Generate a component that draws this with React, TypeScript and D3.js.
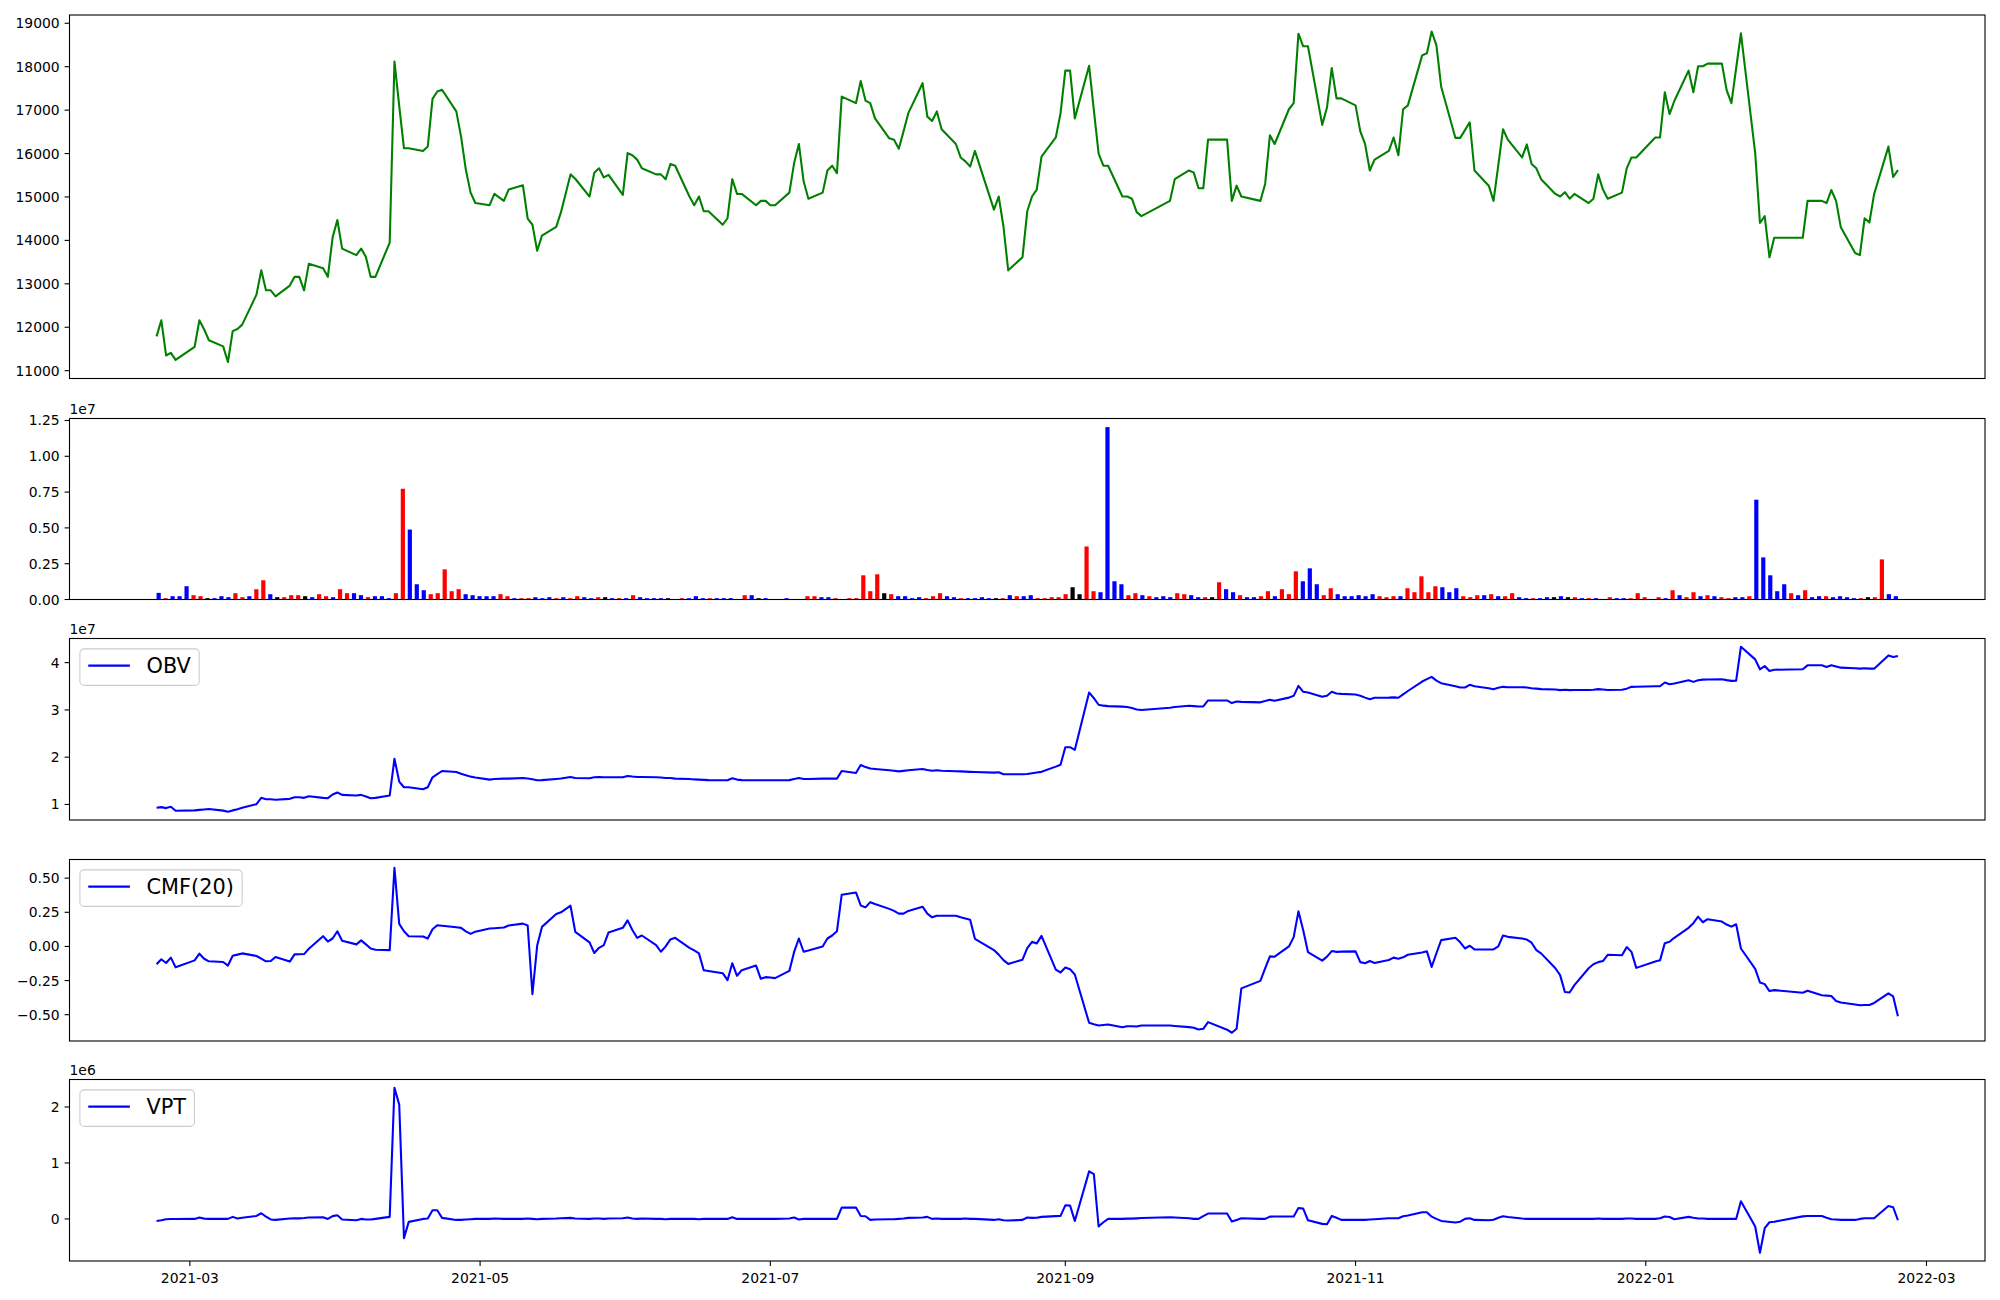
import React from "react";
import * as d3 from "d3";

// ---------- DATA ----------
const TRADING_DAYS: [string, number[]][] = [
  ["2021-02", [22, 23, 24, 25, 26]],
  ["2021-03", [2, 3, 4, 5, 8, 9, 10, 11, 12, 15, 16, 17, 18, 19, 22, 23, 24, 25, 26, 29, 30, 31]],
  ["2021-04", [1, 2, 5, 6, 7, 8, 9, 12, 13, 14, 15, 16, 19, 20, 21, 22, 23, 26, 27, 28, 29, 30]],
  ["2021-05", [3, 4, 6, 7, 10, 11, 12, 13, 14, 17, 18, 20, 21, 24, 25, 26, 27, 28, 31]],
  ["2021-06", [1, 2, 3, 4, 7, 8, 9, 10, 11, 14, 15, 16, 17, 18, 21, 22, 23, 24, 25, 28, 29, 30]],
  ["2021-07", [1, 2, 5, 6, 7, 8, 9, 12, 13, 14, 15, 16, 19, 20, 21, 22, 23, 26, 27, 28, 29, 30]],
  ["2021-08", [2, 3, 4, 5, 6, 9, 10, 11, 12, 13, 17, 18, 19, 20, 23, 24, 25, 26, 27, 30, 31]],
  ["2021-09", [1, 2, 3, 6, 7, 8, 9, 10, 13, 14, 15, 16, 17, 23, 24, 27, 28, 29, 30]],
  ["2021-10", [1, 5, 6, 7, 8, 12, 13, 14, 15, 18, 19, 20, 21, 22, 25, 26, 27, 28, 29]],
  ["2021-11", [1, 2, 3, 4, 5, 8, 9, 10, 11, 12, 15, 16, 17, 18, 19, 22, 23, 24, 25, 26, 29, 30]],
  ["2021-12", [1, 2, 3, 6, 7, 8, 9, 10, 13, 14, 15, 16, 17, 20, 21, 22, 23, 24, 27, 28, 29, 30]],
  ["2022-01", [3, 4, 5, 6, 7, 10, 11, 12, 13, 14, 17, 18, 19, 20, 21, 24, 25, 26, 27, 28]],
  ["2022-02", [3, 4, 7, 8, 9, 10, 11, 14, 15, 16, 17, 18, 21, 22, 23]],
];

const CLOSE = [
  11790, 12160, 11350, 11410, 11250, 11550, 12160, 11950, 11700, 11560,
  11200, 11910, 11960, 12060, 12750, 13310, 12850, 12850, 12710, 12960,
  13160, 13160, 12850, 13460, 13360, 13160, 14070, 14470, 13810, 13660,
  13810, 13620, 13160, 13160, 13950, 18120, 17100, 16120, 16120, 16060,
  16160, 17260, 17430, 17470, 16970, 16390, 15630, 15100, 14860, 14810,
  15070, 14910, 15170, 15270, 14500, 14360, 13760, 14110, 14310, 14650,
  15520, 15420, 15010, 15560, 15660, 15450, 15510, 15050, 16010, 15960,
  15860, 15660, 15520, 15520, 15410, 15760, 15720, 15010, 14810, 15010,
  14670, 14670, 14360, 14510, 15410, 15070, 15070, 14810, 14910, 14910,
  14810, 14810, 15100, 15780, 16220, 15360, 14960, 15100, 15610, 15720,
  15550, 17310, 17160, 17670, 17220, 17160, 16810, 16350, 16320, 16110,
  16510, 16930, 17620, 16850, 16750, 16970, 16560, 16220, 15910, 15820,
  15700, 16060, 14710, 15010, 14320, 13310, 13610, 14670, 15010, 15170,
  15930, 16370, 16930, 17910, 17910, 16810, 18020, 17000, 16000, 15720,
  15720, 15010, 15010, 14960, 14650, 14560, 14910, 15410, 15610, 15560,
  15200, 15200, 16320, 16320, 14910, 15260, 15010, 14910, 15300, 16420,
  16220, 17020, 17160, 18760, 18470, 18470, 16660, 17060, 17970, 17270,
  17270, 17110, 16510, 16220, 15610, 15860, 16060, 16370, 15960, 17020,
  17110, 18260, 18310, 18810, 18490, 17540, 16360, 16360, 16540, 16720,
  15610, 15260, 14910, 15730, 16560, 16320, 15910, 16210, 15760, 15660,
  15410, 15070, 15010, 15110, 14960, 15070, 14860, 14960, 15520, 15170,
  14960, 15100, 15660, 15910, 15910, 16370, 16370, 17410, 16910, 17210,
  17910, 17410, 18010, 18010, 18070, 18070, 17460, 17160, 17970, 18770,
  16010, 14400, 14560, 13610, 14060, 14060, 14910, 14910, 14860, 15160,
  14910, 14300, 13710, 13660, 14510, 14410, 15070, 16160, 15460, 15620,
];

// volume in thousands of shares
const VOLUME_K = [
  463, 93, 231, 231, 926, 301, 231, 93, 93, 231,
  162, 440, 162, 231, 718, 1343, 370, 162, 162, 301,
  301, 231, 162, 370, 231, 162, 718, 440, 440, 301,
  162, 231, 231, 93, 440, 7731, 4884, 1065, 648, 370,
  440, 2106, 579, 718, 370, 301, 231, 231, 231, 370,
  231, 93, 93, 93, 162, 93, 162, 93, 162, 93,
  231, 162, 93, 162, 162, 93, 93, 93, 301, 162,
  93, 93, 93, 93, 30, 93, 93, 231, 93, 93,
  93, 93, 93, 30, 301, 301, 93, 93, 30, 30,
  93, 30, 30, 231, 231, 162, 162, 93, 30, 93,
  93, 1690, 579, 1759, 440, 370, 231, 231, 93, 162,
  93, 231, 440, 231, 162, 93, 93, 93, 162, 93,
  93, 93, 301, 231, 231, 301, 93, 93, 162, 162,
  370, 856, 370, 3704, 579, 509, 12037, 1273, 1065, 301,
  440, 301, 231, 162, 231, 162, 440, 370, 301, 162,
  162, 162, 1204, 718, 509, 301, 162, 162, 231, 579,
  231, 718, 370, 1968, 1273, 2176, 1065, 301, 787, 370,
  231, 231, 301, 231, 370, 231, 162, 231, 231, 787,
  509, 1620, 509, 926, 856, 509, 787, 231, 162, 301,
  301, 370, 231, 231, 440, 162, 93, 93, 93, 162,
  162, 231, 162, 162, 93, 93, 93, 30, 162, 93,
  93, 93, 440, 162, 30, 162, 93, 648, 301, 162,
  509, 231, 301, 231, 162, 93, 162, 162, 231, 6968,
  2940, 1690, 579, 1065, 440, 301, 648, 162, 231, 231,
  162, 231, 162, 93, 93, 162, 162, 2801, 370, 231,
];

// bar colour per day: r = red, b = blue, k = black
const BAR_COLOR_CODES =
  "brbbbrrkbb" + "brrbrrbkrr" + "rkbrrbrrbb" + "rbbbrrbbbr" + "rrrrbbbbbr" +
  "rbrrbbbrbr" + "rbbrkbrbrb" + "bbbkrrbbbr" + "bbbbrbkbrb" + "brbrrbbrrr" +
  "rrrrkrbbbb" + "rrrbbrbbbb" + "krbrbbrrrr" + "rkkrrbbbbr" + "rbrbbbrrbb" +
  "rkrbbrbbrr" + "brrrbbbrrb" + "bbbbbrrrbr" + "rrrrbbbrrr" + "brbrrbbrbb" +
  "kbkrbrbrrb" + "brrrbrbrbr" + "rbrbrrbbrb" + "bbbbrbrbbr" + "bbbbrkrrbb";

// OBV in units of 1e7
const OBV_E7 = [
  0.930, 0.944, 0.923, 0.951, 0.867, 0.875, 0.885, 0.895, 0.905, 0.870,
  0.846, 0.875, 0.900, 0.930, 1.007, 1.140, 1.112, 1.112, 1.098, 1.119,
  1.154, 1.154, 1.140, 1.175, 1.140, 1.133, 1.210, 1.252, 1.203, 1.189,
  1.203, 1.170, 1.133, 1.140, 1.189, 1.967, 1.484, 1.364, 1.364, 1.322,
  1.364, 1.575, 1.640, 1.708, 1.687, 1.650, 1.620, 1.589, 1.570, 1.526,
  1.540, 1.547, 1.547, 1.561, 1.550, 1.535, 1.512, 1.515, 1.540, 1.550,
  1.582, 1.560, 1.554, 1.575, 1.582, 1.575, 1.575, 1.575, 1.603, 1.590,
  1.582, 1.580, 1.575, 1.570, 1.561, 1.560, 1.547, 1.540, 1.530, 1.526,
  1.520, 1.515, 1.512, 1.512, 1.554, 1.526, 1.515, 1.512, 1.512, 1.512,
  1.512, 1.512, 1.515, 1.540, 1.561, 1.540, 1.540, 1.547, 1.547, 1.547,
  1.547, 1.708, 1.666, 1.834, 1.790, 1.760, 1.750, 1.725, 1.715, 1.700,
  1.710, 1.722, 1.750, 1.730, 1.715, 1.722, 1.715, 1.701, 1.700, 1.695,
  1.690, 1.687, 1.673, 1.680, 1.638, 1.638, 1.638, 1.645, 1.660, 1.675,
  1.690, 1.800, 1.841, 2.212, 2.212, 2.156, 3.369, 3.250, 3.109, 3.090,
  3.080, 3.070, 3.060, 3.040, 3.010, 2.997, 3.046, 3.060, 3.088, 3.080,
  3.074, 3.074, 3.200, 3.200, 3.144, 3.179, 3.170, 3.160, 3.190, 3.214,
  3.193, 3.260, 3.298, 3.509, 3.383, 3.370, 3.277, 3.300, 3.383, 3.348,
  3.340, 3.327, 3.300, 3.260, 3.228, 3.257, 3.260, 3.265, 3.257, 3.330,
  3.400, 3.600, 3.650, 3.698, 3.620, 3.565, 3.500, 3.474, 3.474, 3.530,
  3.500, 3.460, 3.439, 3.470, 3.488, 3.480, 3.480, 3.475, 3.460, 3.450,
  3.440, 3.430, 3.418, 3.425, 3.418, 3.420, 3.420, 3.425, 3.440, 3.430,
  3.420, 3.425, 3.450, 3.488, 3.490, 3.500, 3.500, 3.579, 3.544, 3.560,
  3.628, 3.593, 3.628, 3.640, 3.645, 3.649, 3.630, 3.614, 3.620, 4.336,
  4.069, 3.859, 3.929, 3.824, 3.850, 3.859, 3.943, 3.943, 3.908, 3.943,
  3.920, 3.894, 3.880, 3.873, 3.880, 3.873, 3.873, 4.153, 4.118, 4.139,
];

const CMF20 = [
  -0.131, -0.094, -0.121, -0.082, -0.153, -0.102, -0.053, -0.090, -0.109, -0.114,
  -0.140, -0.068, -0.060, -0.051, -0.070, -0.090, -0.109, -0.107, -0.077, -0.111,
  -0.058, -0.057, -0.056, -0.017, 0.075, 0.036, 0.058, 0.111, 0.041, 0.015,
  0.044, 0.015, -0.015, -0.024, -0.027, 0.576, 0.165, 0.111, 0.075, 0.073,
  0.058, 0.126, 0.155, 0.152, 0.140, 0.136, 0.110, 0.092, 0.108, 0.131,
  0.133, 0.138, 0.153, 0.167, 0.153, -0.349, 0.007, 0.143, 0.237, 0.250,
  0.298, 0.107, 0.030, -0.048, -0.010, 0.010, 0.102, 0.136, 0.191, 0.120,
  0.063, 0.080, 0.010, -0.039, 0.000, 0.051, 0.063, -0.010, -0.029, -0.051,
  -0.174, -0.180, -0.196, -0.247, -0.123, -0.215, -0.174, -0.140, -0.237, -0.225,
  -0.228, -0.232, -0.179, -0.040, 0.058, -0.039, -0.030, 0.000, 0.058, 0.080,
  0.111, 0.378, 0.395, 0.300, 0.286, 0.324, 0.310, 0.275, 0.260, 0.240,
  0.240, 0.260, 0.291, 0.240, 0.213, 0.225, 0.225, 0.225, 0.213, 0.205,
  0.196, 0.056, -0.027, -0.060, -0.100, -0.128, -0.097, -0.012, 0.034, 0.022,
  0.077, -0.170, -0.191, -0.155, -0.167, -0.205, -0.559, -0.570, -0.579, -0.575,
  -0.571, -0.591, -0.584, -0.585, -0.586, -0.579, -0.579, -0.582, -0.591, -0.595,
  -0.608, -0.603, -0.554, -0.610, -0.632, -0.603, -0.307, -0.252, -0.160, -0.073,
  -0.075, 0.000, 0.068, 0.257, 0.119, -0.041, -0.104, -0.075, -0.034, -0.040,
  -0.038, -0.036, -0.115, -0.123, -0.107, -0.121, -0.099, -0.082, -0.090, -0.080,
  -0.061, -0.045, -0.036, -0.150, -0.050, 0.046, 0.063, 0.030, -0.015, 0.005,
  -0.022, -0.022, -0.022, 0.000, 0.080, 0.070, 0.058, 0.050, 0.027, -0.027,
  -0.051, -0.160, -0.210, -0.334, -0.337, -0.283, -0.160, -0.131, -0.115, -0.107,
  -0.061, -0.065, -0.005, -0.040, -0.157, -0.110, -0.102, 0.024, 0.034, 0.063,
  0.136, 0.170, 0.218, 0.177, 0.199, 0.182, 0.160, 0.145, 0.162, -0.015,
  -0.165, -0.264, -0.276, -0.327, -0.320, -0.339, -0.324, -0.358, -0.360, -0.363,
  -0.400, -0.410, -0.425, -0.431, -0.429, -0.429, -0.414, -0.344, -0.366, -0.511,
];

// VPT in thousands
const VPT_K = [
  -36, -24, -6, -3, -2, 0, 24, 5, 0, 0,
  0, 36, 6, 20, 53, 101, 40, -10, -18, 6,
  10, 10, 15, 25, 30, 0, 50, 65, -12, -24,
  0, -10, -12, 0, 36, 2344, 2042, -344, -53, 0,
  6, 154, 154, 18, -18, -18, -10, -5, 0, 0,
  6, 0, 0, 0, 6, 0, -6, 0, 6, 12,
  18, 6, 0, 6, 6, 0, 6, 12, 24, 6,
  0, 6, 0, 0, -6, 0, 0, 0, 0, -6,
  0, 0, 0, 0, 30, 0, 0, 0, 0, 0,
  0, 0, 6, 24, -12, 0, 0, 0, 0, 0,
  0, 202, 202, 53, 48, -18, -12, -6, -6, 0,
  6, 18, 24, 36, 0, 6, 0, 0, 0, 6,
  0, 0, -18, -6, -24, -30, -18, 24, 18, 20,
  36, 50, 53, 243, 237, -36, 850, 801, -136, -60,
  0, 0, 5, 5, 10, 15, 30, 25, 12, 0,
  0, 50, 95, 95, -48, -18, 12, 0, 0, 40,
  42, 42, 42, 196, 184, -24, -89, -95, 53, 20,
  -18, -18, -18, -18, -10, -5, 12, 12, 12, 48,
  60, 119, 119, 40, 0, -36, -65, -50, 0, 12,
  -18, -24, -15, 20, 48, 35, 6, 0, 0, 0,
  0, 0, 0, 0, 0, 0, 0, 0, 6, 0,
  0, 0, 6, 6, 0, 0, 10, 42, 35, -6,
  36, 20, 6, 6, 0, 0, 0, 0, 0, 315,
  -136, -605, -166, -60, -50, 45, 53, 53, 20, -5,
  -12, -18, -18, 0, 12, 12, 12, 231, 208, -24,
];

const PRICE_TICKS = [11000, 12000, 13000, 14000, 15000, 16000, 17000, 18000, 19000];
const VOLUME_TICKS = [0, 0.25, 0.5, 0.75, 1.0, 1.25]; // x1e7
const OBV_TICKS = [1, 2, 3, 4]; // x1e7
const CMF_TICKS = [-0.5, -0.25, 0, 0.25, 0.5];
const VPT_TICKS = [0, 1, 2]; // x1e6
const X_TICK_MONTHS = ["2021-03", "2021-05", "2021-07", "2021-09", "2021-11", "2022-01", "2022-03"];

// ---------- LAYOUT ----------
const W = 2000;
const H = 1300;
const LEFT = 69.5;
const RIGHT = 1985;
const PANELS = [
  { top: 15, bottom: 378.5 },
  { top: 418.5, bottom: 599.5 },
  { top: 638.5, bottom: 820 },
  { top: 859.5, bottom: 1041 },
  { top: 1079.5, bottom: 1261 },
];
const FONT = "'DejaVu Sans', sans-serif";
const TICK_FS = 13.9;
const LEG_FS = 20.83;
const TICK_LEN = 4.9;
const SPINE_W = 1.1;
const LINE_W = 2.08;
const BAR_WIDTH = 0.6; // in bar-index units
const COLORS: Record<string, string> = { r: "#ff0000", b: "#0000ff", k: "#000000" };

function measureText(text: string, size: number): number {
  try {
    const ctx = document.createElement("canvas").getContext("2d");
    if (ctx) {
      ctx.font = `${size}px 'DejaVu Sans'`;
      return ctx.measureText(text).width;
    }
  } catch (e) {}
  return text.length * size * 0.62;
}

function padDomain(vals: number[]): [number, number] {
  const lo = d3.min(vals) as number;
  const hi = d3.max(vals) as number;
  const p = (hi - lo) * 0.05;
  return [lo - p, hi + p];
}

function minusFmt(s: string) {
  return s.replace("-", "\u2212");
}

type Panel = { top: number; bottom: number };

function YAxis({ y, ticks, labels }: { y: d3.ScaleLinear<number, number>; ticks: number[]; labels: string[] }) {
  return (
    <g>
      {ticks.map((t, i) => {
        const yy = y(t);
        return (
          <g key={i}>
            <line x1={LEFT - TICK_LEN} x2={LEFT} y1={yy} y2={yy} stroke="#000" strokeWidth={SPINE_W} />
            <text
              x={LEFT - TICK_LEN - 4.9}
              y={yy + 5}
              textAnchor="end"
              fontFamily={FONT}
              fontSize={TICK_FS}
              fill="#000"
            >
              {labels[i]}
            </text>
          </g>
        );
      })}
    </g>
  );
}

function Frame({ panel }: { panel: Panel }) {
  return (
    <rect
      x={LEFT}
      y={panel.top}
      width={RIGHT - LEFT}
      height={panel.bottom - panel.top}
      fill="none"
      stroke="#000"
      strokeWidth={SPINE_W}
    />
  );
}

function Legend({ panel, label }: { panel: Panel; label: string }) {
  const fs = LEG_FS;
  const tw = measureText(label, fs);
  const bx = LEFT + 0.5 * fs;
  const by = panel.top + 0.5 * fs;
  const bw = 3.6 * fs + tw;
  const bh = 1.75 * fs;
  const ly = by + bh / 2 - 1.5;
  const lx1 = bx + 0.4 * fs;
  const lx2 = lx1 + 2 * fs;
  return (
    <g>
      <rect
        x={bx}
        y={by}
        width={bw}
        height={bh}
        rx={0.2 * fs}
        ry={0.2 * fs}
        fill="#ffffff"
        fillOpacity={0.8}
        stroke="#cccccc"
        strokeWidth={1.1}
      />
      <line x1={lx1} x2={lx2} y1={ly} y2={ly} stroke="#0000ff" strokeWidth={LINE_W} />
      <text x={lx2 + 0.8 * fs} y={ly + 0.365 * fs} fontFamily={FONT} fontSize={fs} fill="#000">
        {label}
      </text>
    </g>
  );
}

function OffsetText({ panel, text }: { panel: Panel; text: string }) {
  return (
    <text x={LEFT} y={panel.top - 5} fontFamily={FONT} fontSize={TICK_FS} fill="#000">
      {text}
    </text>
  );
}

export default function App() {
  const dates: Date[] = TRADING_DAYS.flatMap(([ym, days]) =>
    days.map((d) => new Date(Date.UTC(+ym.slice(0, 4), +ym.slice(5, 7) - 1, d)))
  );
  const n = dates.length;
  const t0 = dates[0].getTime();
  const t1 = dates[n - 1].getTime();
  const span = t1 - t0;
  const x = d3
    .scaleUtc()
    .domain([new Date(t0 - 0.05 * span), new Date(t1 + 0.05 * span)])
    .range([LEFT, RIGHT]);

  // volume panel is drawn against bar index (own x axis, labels hidden)
  const bLo = -BAR_WIDTH / 2;
  const bHi = n - 1 + BAR_WIDTH / 2;
  const bPad = (bHi - bLo) * 0.05;
  const xb = d3.scaleLinear().domain([bLo - bPad, bHi + bPad]).range([LEFT, RIGHT]);
  const barPx = xb(BAR_WIDTH) - xb(0);

  const yPrice = d3.scaleLinear().domain(padDomain(CLOSE)).range([PANELS[0].bottom, PANELS[0].top]);
  const volVals = VOLUME_K.map((v) => v * 1000);
  const yVol = d3
    .scaleLinear()
    .domain([0, (d3.max(volVals) as number) * 1.05])
    .range([PANELS[1].bottom, PANELS[1].top]);
  const obvVals = OBV_E7.map((v) => v * 1e7);
  const yObv = d3.scaleLinear().domain(padDomain(obvVals)).range([PANELS[2].bottom, PANELS[2].top]);
  const yCmf = d3.scaleLinear().domain(padDomain(CMF20)).range([PANELS[3].bottom, PANELS[3].top]);
  const vptVals = VPT_K.map((v) => v * 1000);
  const yVpt = d3.scaleLinear().domain(padDomain(vptVals)).range([PANELS[4].bottom, PANELS[4].top]);

  const mkLine = (vals: number[], y: d3.ScaleLinear<number, number>) =>
    d3
      .line<number>()
      .x((_, i) => x(dates[i]))
      .y((v) => y(v))(vals) || "";

  const xTickDates = X_TICK_MONTHS.map((m) => new Date(Date.UTC(+m.slice(0, 4), +m.slice(5, 7) - 1, 1)));

  return (
    <svg
      width={W}
      height={H}
      viewBox={`0 0 ${W} ${H}`}
      style={{ position: "absolute", left: 0, top: 0, background: "#fff", display: "block" }}
    >
      <rect x={0} y={0} width={W} height={H} fill="#fff" />

      {/* Panel 1: price */}
      <path d={mkLine(CLOSE, yPrice)} fill="none" stroke="#008000" strokeWidth={LINE_W} strokeLinejoin="round" />
      <Frame panel={PANELS[0]} />
      <YAxis y={yPrice} ticks={PRICE_TICKS} labels={PRICE_TICKS.map((t) => String(t))} />

      {/* Panel 2: volume */}
      {volVals.map((v, i) => (
        <rect
          key={i}
          x={xb(i) - barPx / 2}
          y={yVol(v)}
          width={barPx}
          height={yVol(0) - yVol(v)}
          fill={COLORS[BAR_COLOR_CODES[i]]}
        />
      ))}
      <Frame panel={PANELS[1]} />
      <YAxis
        y={yVol}
        ticks={VOLUME_TICKS.map((t) => t * 1e7)}
        labels={VOLUME_TICKS.map((t) => t.toFixed(2))}
      />
      <OffsetText panel={PANELS[1]} text="1e7" />

      {/* Panel 3: OBV */}
      <path d={mkLine(obvVals, yObv)} fill="none" stroke="#0000ff" strokeWidth={LINE_W} strokeLinejoin="round" />
      <Frame panel={PANELS[2]} />
      <YAxis y={yObv} ticks={OBV_TICKS.map((t) => t * 1e7)} labels={OBV_TICKS.map((t) => String(t))} />
      <OffsetText panel={PANELS[2]} text="1e7" />
      <Legend panel={PANELS[2]} label="OBV" />

      {/* Panel 4: CMF */}
      <path d={mkLine(CMF20, yCmf)} fill="none" stroke="#0000ff" strokeWidth={LINE_W} strokeLinejoin="round" />
      <Frame panel={PANELS[3]} />
      <YAxis y={yCmf} ticks={CMF_TICKS} labels={CMF_TICKS.map((t) => minusFmt(t.toFixed(2)))} />
      <Legend panel={PANELS[3]} label="CMF(20)" />

      {/* Panel 5: VPT */}
      <path d={mkLine(vptVals, yVpt)} fill="none" stroke="#0000ff" strokeWidth={LINE_W} strokeLinejoin="round" />
      <Frame panel={PANELS[4]} />
      <YAxis y={yVpt} ticks={VPT_TICKS.map((t) => t * 1e6)} labels={VPT_TICKS.map((t) => String(t))} />
      <OffsetText panel={PANELS[4]} text="1e6" />
      <Legend panel={PANELS[4]} label="VPT" />
      {xTickDates.map((d, i) => (
        <g key={i}>
          <line
            x1={x(d)}
            x2={x(d)}
            y1={PANELS[4].bottom}
            y2={PANELS[4].bottom + TICK_LEN}
            stroke="#000"
            strokeWidth={SPINE_W}
          />
          <text
            x={x(d)}
            y={PANELS[4].bottom + 22}
            textAnchor="middle"
            fontFamily={FONT}
            fontSize={TICK_FS}
            fill="#000"
          >
            {X_TICK_MONTHS[i]}
          </text>
        </g>
      ))}
    </svg>
  );
}
